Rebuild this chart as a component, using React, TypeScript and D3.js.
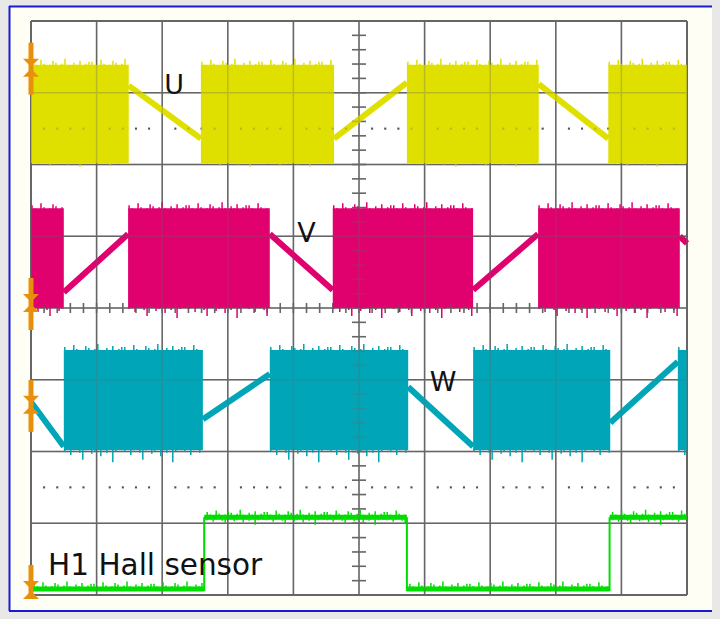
import * as d3 from "d3";
import React from "react";

// screen is 10 x 8 divisions, time in divisions, level in divisions from centre
const uHigh = 3.39;
const uLow = 2.02;
const uPwm = [[0, 1.49], [2.59, 4.62], [5.73, 7.74], [8.8, 10]];
const uSlope = [[1.49, 3.1, 2.59, 2.36], [4.62, 2.36, 5.73, 3.14], [7.74, 3.12, 8.8, 2.36]];

const vHigh = 1.39;
const vLow = 0.0;
const vPwm = [[0, 0.5], [1.48, 3.64], [4.6, 6.74], [7.73, 9.89]];
const vSlope = [[0.5, 0.22, 1.48, 1.03], [3.64, 1.03, 4.6, 0.25], [6.74, 0.25, 7.73, 1.03], [9.89, 1.0, 10, 0.9]];

const wHigh = -0.585;
const wLow = -1.98;
const wPwm = [[0.5, 2.62], [3.64, 5.75], [6.74, 8.83], [9.86, 10]];
const wSlope = [[0, -1.31, 0.5, -1.93], [2.62, -1.55, 3.64, -0.92], [5.75, -1.1, 6.74, -1.93], [8.83, -1.6, 9.86, -0.75]];

const hHigh = -2.93;
const hLow = -3.93;
const hEdges = [0, 2.64, 5.73, 8.82, 10]; // starts low

// ringing at the switching edges, in pixels
const spikeTop = [4, 1, 0, 6, 2, 0, 1, 5, 3, 0, 2, 7, 1, 0, 3, 1, 5, 0, 2, 4];
const spikeBottom = [2, 0, 5, 1, 0, 3, 9, 1, 0, 4, 2, 0, 6, 1, 3, 0, 11, 2, 0, 1];

const markers = [3.35, 0.07, -1.35, -3.93];
const dottedRows = [2.5, -2.5];

const labels = [
  { text: "U", t: 2.03, v: 2.98, size: 27 },
  { text: "V", t: 4.06, v: 0.92, size: 27 },
  { text: "W", t: 6.08, v: -1.16, size: 27 },
  { text: "H1 Hall sensor", t: 0.26, v: -3.72, size: 29.5 },
];

const YELLOW = "#e0e000";
const MAGENTA = "#e0006e";
const CYAN = "#00a6b7";
const GREEN = "#00dd00";
const ORANGE = "#e8900c";

const x = d3.scaleLinear().domain([0, 10]).range([31, 687]);
const y = d3.scaleLinear().domain([4, -4]).range([21, 595]);

const spikePath = (x0: number, x1: number, yEdge: number, pattern: number[], dir: number) => {
  let d = "";
  let k = 0;
  for (let px = x0 + 1; px < x1 - 1; px += 3, k++) {
    const len = pattern[k % pattern.length];
    if (len > 0) d += `M${px},${yEdge}V${yEdge + dir * len}`;
  }
  return d;
};

const Channel = ({ pwm, slope, high, low, color, bottomScale }: any) => (
  <g>
    {pwm.map(([t0, t1]: number[], i: number) => (
      <g key={"p" + i}>
        <rect x={x(t0)} y={y(high)} width={x(t1) - x(t0)} height={y(low) - y(high)} fill={color} />
        <path d={spikePath(x(t0), x(t1), y(high) + 1, spikeTop, -1)} stroke={color} strokeWidth={1.5} />
        <path
          d={spikePath(x(t0), x(t1), y(low) - 1, spikeBottom.map((s) => s * bottomScale), 1)}
          stroke={color}
          strokeWidth={1.5}
        />
      </g>
    ))}
    {slope.map(([t0, v0, t1, v1]: number[], i: number) => (
      <line key={"s" + i} x1={x(t0)} y1={y(v0)} x2={x(t1)} y2={y(v1)} stroke={color} strokeWidth={6} />
    ))}
  </g>
);

const Grid = ({ opacity }: { opacity: number }) => {
  const xs = d3.range(0, 11);
  const ys = d3.range(-4, 5);
  const subX = d3.range(0, 50.01).map((k) => k / 5);
  const subY = d3.range(-20, 20.01).map((k) => k / 5);
  return (
    <g opacity={opacity}>
      {xs.map((t) => (
        <line key={"gx" + t} x1={x(t)} x2={x(t)} y1={y(4)} y2={y(-4)} stroke="#666" strokeWidth={t === 0 || t === 10 ? 2 : 1.5} />
      ))}
      {ys.map((v) => (
        <line key={"gy" + v} y1={y(v)} y2={y(v)} x1={x(0)} x2={x(10)} stroke="#666" strokeWidth={v === 4 || v === -4 ? 2 : 1.5} />
      ))}
      {subY.map((v, i) => (
        <line key={"ty" + i} x1={x(5) - 7} x2={x(5) + 7} y1={y(v)} y2={y(v)} stroke="#666" strokeWidth={1.5} />
      ))}
      {subX.map((t, i) => (
        <line key={"tx" + i} y1={y(0) - 5} y2={y(0) + 5} x1={x(t)} x2={x(t)} stroke="#666" strokeWidth={1.5} />
      ))}
      {dottedRows.map((v) =>
        subX
          .filter((t, i) => i % 5 !== 0)
          .map((t, i) => <rect key={"d" + v + "_" + i} x={x(t) - 1} y={y(v) - 1} width={2} height={2} fill="#555" />)
      )}
    </g>
  );
};

const Marker = ({ v }: { v: number }) => {
  const cy = y(v);
  const cx = x(0);
  const bottom = Math.min(cy + 27, y(-4) + 2);
  return (
    <g fill={ORANGE} stroke="none">
      <rect x={cx - 2.5} y={cy - 25} width={5} height={bottom - (cy - 25)} />
      <path d={`M${cx - 8},${cy - 9} L${cx + 8},${cy - 9} L${cx},${cy - 1} Z`} />
      <path d={`M${cx - 8},${cy + 9} L${cx + 8},${cy + 9} L${cx},${cy + 1} Z`} />
    </g>
  );
};

const Hall = () => {
  const pts: [number, number][] = [];
  hEdges.slice(0, -1).forEach((t, i) => {
    const lvl = i % 2 === 0 ? hLow : hHigh;
    pts.push([x(t), y(lvl)], [x(hEdges[i + 1]), y(lvl)]);
  });
  const line = d3.line();
  return (
    <g>
      <path d={line(pts) || ""} fill="none" stroke={GREEN} strokeWidth={2} />
      {hEdges.slice(0, -1).map((t, i) => {
        const lvl = i % 2 === 0 ? hLow : hHigh;
        return (
          <g key={i}>
            <line x1={x(t)} x2={x(hEdges[i + 1])} y1={y(lvl) - 1} y2={y(lvl) - 1} stroke={GREEN} strokeWidth={5} />
            <path d={spikePath(x(t) + 2, x(hEdges[i + 1]), y(lvl) - 3, spikeTop.map((s) => s * 0.8), -1)} stroke={GREEN} strokeWidth={1.5} />
            {lvl === hHigh && (
              <path d={spikePath(x(t) + 2, x(hEdges[i + 1]), y(lvl) + 1, spikeBottom.map((s) => s * 0.5), 1)} stroke={GREEN} strokeWidth={1.5} />
            )}
          </g>
        );
      })}
    </g>
  );
};

export default function App() {
  return (
    <svg width={720} height={619} style={{ position: "absolute", left: 0, top: 0 }} fontFamily="DejaVu Sans, Verdana, sans-serif">
      <rect x={0} y={0} width={720} height={619} fill="#e8e8e8" />
      <rect x={9} y={6} width={703} height={605} fill="#fffef4" />
      <line x1={9} x2={712} y1={6.5} y2={6.5} stroke="#1a1ad2" strokeWidth={2} />
      <line x1={9} x2={712} y1={611} y2={611} stroke="#1a1ad2" strokeWidth={2} />
      <line x1={9.5} x2={9.5} y1={6} y2={611} stroke="#1a1ad2" strokeWidth={2} />
      <rect x={x(0)} y={y(4)} width={x(10) - x(0)} height={y(-4) - y(4)} fill="#ffffff" />
      <Grid opacity={1} />
      <Channel pwm={uPwm} slope={uSlope} high={uHigh} low={uLow} color={YELLOW} bottomScale={0.4} />
      <Channel pwm={vPwm} slope={vSlope} high={vHigh} low={vLow} color={MAGENTA} bottomScale={1} />
      <Channel pwm={wPwm} slope={wSlope} high={wHigh} low={wLow} color={CYAN} bottomScale={1.2} />
      <Hall />
      <Grid opacity={0.3} />
      {markers.map((v, i) => (
        <Marker key={i} v={v} />
      ))}
      {labels.map((l) => (
        <text key={l.text} x={x(l.t)} y={y(l.v)} fontSize={l.size} fill="#111">
          {l.text}
        </text>
      ))}
    </svg>
  );
}
